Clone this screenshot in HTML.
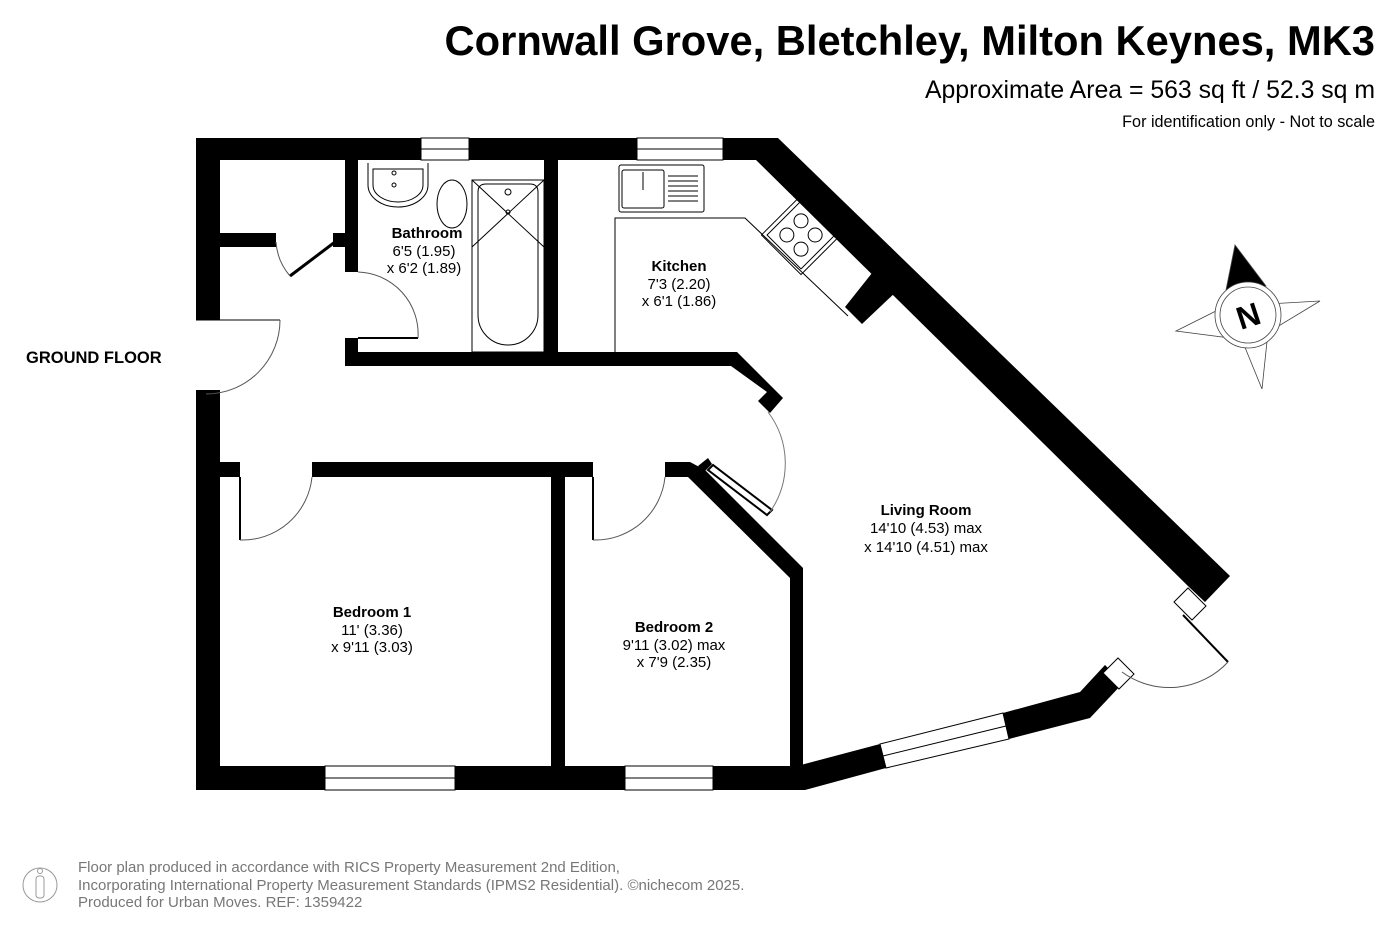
<!DOCTYPE html>
<html><head><meta charset="utf-8"><style>
body{margin:0;background:#fff;width:1396px;height:930px;overflow:hidden;font-family:"Liberation Sans",sans-serif}
</style></head><body>
<svg width="1396" height="930" viewBox="0 0 1396 930" xmlns="http://www.w3.org/2000/svg" font-family="Liberation Sans, sans-serif">
<text x="1375" y="55" text-anchor="end" font-size="41.7" font-weight="bold">Cornwall Grove, Bletchley, Milton Keynes, MK3</text>
<text x="1375" y="98" text-anchor="end" font-size="24.8">Approximate Area = 563 sq ft / 52.3 sq m</text>
<text x="1375" y="127" text-anchor="end" font-size="16.2">For identification only - Not to scale</text>
<text x="26" y="363" font-size="16.5" font-weight="bold">GROUND FLOOR</text>

<g fill="#000">
<rect x="196" y="138" width="225" height="22"/>
<rect x="469" y="138" width="168" height="22"/>
<rect x="723" y="138" width="55" height="22"/>
<polygon points="723,138 778,138 1230,576 1205,602 1190,588 756,160 723,160"/>
<rect x="196" y="138" width="24" height="182"/>
<rect x="196" y="390" width="24" height="400"/>
<rect x="196" y="766" width="129" height="24"/>
<rect x="455" y="766" width="170" height="24"/>
<rect x="713" y="766" width="92" height="24"/>
<polygon points="797,766 880,744 886,768 805,790"/>
<polygon points="1003,713 1080,692 1105,665 1123,683 1090,718 1009,739"/>
<rect x="220" y="233" width="56" height="14"/>
<rect x="333" y="233" width="12" height="14"/>
<rect x="345" y="160" width="13" height="112"/>
<polygon points="345,338 358,338 358,352 737,352 783,398 770,413 758,401 767,392 731,366 345,366"/>
<rect x="544" y="160" width="14" height="192"/>
<polygon points="876,268 898,290 862,324 845,307"/>
<rect x="220" y="462" width="20" height="15"/>
<rect x="312" y="462" width="281" height="15"/>
<rect x="665" y="462" width="25" height="15"/>
<rect x="551" y="477" width="14" height="289"/>
<polygon points="690,462 705,470 803,568 803,766 790,766 790,578 688,477"/>
<polygon points="698,466 708,458 712,464 704,472"/>
<polygon points="1174,602 1188,588 1206,606 1192,620" fill="#fff" stroke="#000" stroke-width="1"/>
<polygon points="1103,673 1118,658 1134,674 1119,689" fill="#fff" stroke="#000" stroke-width="1"/>
</g>

<g fill="none" stroke="#000" stroke-width="1">
<rect x="421" y="138" width="48" height="22"/><line x1="421" y1="149" x2="469" y2="149"/>
<rect x="637" y="138" width="86" height="22"/><line x1="637" y1="149" x2="723" y2="149"/>
<rect x="325" y="766" width="130" height="24"/><line x1="325" y1="778" x2="455" y2="778"/>
<rect x="625" y="766" width="88" height="24"/><line x1="625" y1="778" x2="713" y2="778"/>
<polygon points="880,744 1003,713 1009,739 886,768"/><line x1="883" y1="756" x2="1006" y2="726"/>
<line x1="196" y1="320" x2="280" y2="320"/>
<path d="M280,320 A74,74 0 0 1 206,394" stroke="#555"/>
<line x1="335" y1="242" x2="290" y2="276" stroke-width="3"/>
<path d="M276,242 A58,58 0 0 0 290,276" stroke="#555"/>
<line x1="358" y1="338" x2="418" y2="338" stroke-width="2"/>
<path d="M358,272 A62,62 0 0 1 418,338" stroke="#555"/>
<line x1="240" y1="477" x2="240" y2="540" stroke-width="2"/>
<path d="M240,540 A70,70 0 0 0 312,477" stroke="#555"/>
<line x1="593" y1="477" x2="593" y2="540" stroke-width="2"/>
<path d="M593,540 A70,70 0 0 0 665,477" stroke="#555"/>
<polygon points="708,470 713,465 772,510 767,515" stroke-width="2"/>
<path d="M770,512 A85,85 0 0 0 768,412" stroke="#777"/>
<line x1="1183" y1="615" x2="1228" y2="662" stroke-width="2"/>
<path d="M1228,662 A80,80 0 0 1 1122,672" stroke="#555"/>
<path d="M368,163 L368,185 A30,22 0 0 0 428,185 L428,163"/>
<path d="M373,169 L373,185 A25,17 0 0 0 423,185 L423,169 Z"/>
<circle cx="394" cy="185" r="2"/><circle cx="394" cy="173" r="2"/>
<ellipse cx="452" cy="204" rx="15" ry="24"/>
<rect x="472" y="180" width="72" height="172"/>
<path d="M478,192 Q478,184 486,184 L530,184 Q538,184 538,192 L538,315 A30,30 0 0 1 478,315 Z"/>
<line x1="472" y1="180" x2="544" y2="247"/><line x1="544" y1="180" x2="472" y2="247"/>
<circle cx="508" cy="192" r="3"/><circle cx="508" cy="212" r="2"/>
<path d="M615,352 L615,218 L745,218 L848,316"/>
<rect x="619" y="165" width="85" height="47" rx="2"/>
<rect x="622" y="170" width="42" height="38" rx="2"/>
<line x1="668" y1="176" x2="698" y2="176"/><line x1="668" y1="181" x2="698" y2="181"/><line x1="668" y1="186" x2="698" y2="186"/><line x1="668" y1="191" x2="698" y2="191"/><line x1="668" y1="196" x2="698" y2="196"/><line x1="668" y1="201" x2="698" y2="201"/>
<line x1="643" y1="172" x2="643" y2="190"/>
<g transform="translate(801,235) rotate(45)">
<rect x="-28" y="-28" width="56" height="56"/><rect x="-24" y="-24" width="48" height="48"/>
<circle cx="-10" cy="-10" r="7"/><circle cx="10" cy="-10" r="7"/><circle cx="-10" cy="10" r="7"/><circle cx="10" cy="10" r="7"/>
</g>
</g>

<g font-size="15" text-anchor="middle">
<text x="427" y="238" font-weight="bold">Bathroom</text><text x="424" y="256">6'5 (1.95)</text><text x="424" y="273">x 6'2 (1.89)</text>
<text x="679" y="271" font-weight="bold">Kitchen</text><text x="679" y="289">7'3 (2.20)</text><text x="679" y="306">x 6'1 (1.86)</text>
<text x="926" y="515" font-weight="bold">Living Room</text><text x="926" y="533">14'10 (4.53) max</text><text x="926" y="552">x 14'10 (4.51) max</text>
<text x="372" y="617" font-weight="bold">Bedroom 1</text><text x="372" y="635">11' (3.36)</text><text x="372" y="652">x 9'11 (3.03)</text>
<text x="674" y="632" font-weight="bold">Bedroom 2</text><text x="674" y="650">9'11 (3.02) max</text><text x="674" y="667">x 7'9 (2.35)</text>
</g>

<g stroke="#444" stroke-width="0.8" fill="#fff">
<polygon points="1176,331 1222,308 1230,338"/>
<polygon points="1320,301 1268,304 1272,330"/>
<polygon points="1262,389 1242,340 1268,332"/>
<polygon points="1235,245 1266,286 1225,295" fill="#000"/>
<circle cx="1248" cy="315" r="33"/><circle cx="1248" cy="315" r="28"/>
</g>
<text x="1248" y="327" text-anchor="middle" font-size="32" font-weight="bold" transform="rotate(-18 1248 315)">N</text>

<circle cx="40" cy="885" r="17" fill="none" stroke="#999"/>
<circle cx="40" cy="871" r="2.5" fill="none" stroke="#999"/>
<rect x="36" y="876" width="8" height="22" rx="3" fill="none" stroke="#999"/>
<g font-size="15" fill="#777">
<text x="78" y="872">Floor plan produced in accordance with RICS Property Measurement 2nd Edition,</text>
<text x="78" y="890">Incorporating International Property Measurement Standards (IPMS2 Residential).   ©nichecom 2025.</text>
<text x="78" y="907">Produced for Urban Moves.   REF:  1359422</text>
</g>
</svg>
</body></html>
